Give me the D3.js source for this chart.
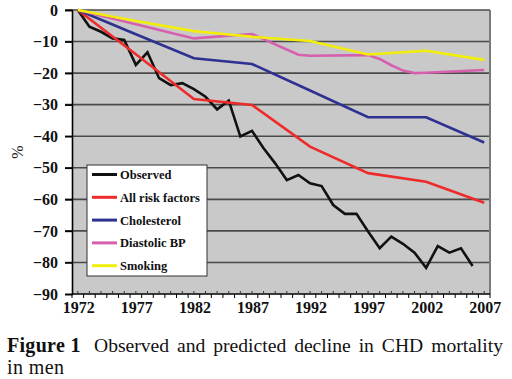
<!DOCTYPE html>
<html>
<head>
<meta charset="utf-8">
<script src="https://cdn.jsdelivr.net/npm/d3@7"></script>
<style>
  html, body { margin: 0; padding: 0; background: #fff; }
  svg { display: block; }
  text { font-family: "Liberation Serif"; }
</style>
</head>
<body>
<svg id="chart" width="512" height="379"></svg>
<script>
// ---------- data ----------
const years = [1972,1973,1974,1975,1976,1977,1978,1979,1980,1981,1982,1983,1984,1985,1986,1987,1988,1989,
               1990,1991,1992,1993,1994,1995,1996,1997,1998,1999,2000,2001,2002,2003,2004,2005,2006,2007];
const tickYears = [1972, 1977, 1982, 1987, 1992, 1997, 2002, 2007];
const yTicks = [0, -10, -20, -30, -40, -50, -60, -70, -80, -90];

const observedYears = [1972,1973,1974,1975,1976,1977,1978,1979,1980,1981,1982,1983,1984,1985,1986,1987,1988,1989,
                       1990,1991,1992,1993,1994,1995,1996,1997,1998,1999,2000,2001,2002,2003,2004,2005,2006];
const observedValues = [0,-5.3,-6.9,-9.0,-9.5,-17.4,-13.4,-21.6,-23.8,-23.2,-25.1,-27.5,-31.5,-28.7,-40.1,-38.3,-43.8,-48.6,
                        -53.9,-52.3,-54.9,-55.8,-61.8,-64.6,-64.6,-70.2,-75.5,-71.8,-74.1,-76.9,-81.7,-74.8,-76.9,-75.5,-81.1];

const riskYears = [1972, 1977, 1982, 1987, 1992, 1997, 2002, 2007];
const riskValues = [0, -14.0, -28.2, -30.1, -43.3, -51.7, -54.4, -61.1];

const cholYears = [1972, 1977, 1982, 1987, 1992, 1997, 2002, 2007];
const cholValues = [0, -7.7, -15.3, -17.1, -25.5, -34.0, -34.0, -42.0];

const bpYears = [1972, 1977, 1982, 1987, 1991, 1992, 1997, 1998, 1999, 2000, 2001, 2002, 2007];
const bpValues = [0, -4.5, -9.0, -7.6, -14.2, -14.5, -14.3, -15.5, -17.5, -19.2, -20.0, -19.9, -19.0];

const smokeYears = [1972, 1977, 1982, 1987, 1992, 1997, 2002, 2007];
const smokeValues = [0, -3.5, -6.7, -8.5, -9.8, -14.1, -12.9, -15.8];

const seriesNames = ["Observed", "All risk factors", "Cholesterol", "Diastolic BP", "Smoking"];
const seriesColors = ["#111111", "#ee2b2b", "#2e3192", "#d65fae", "#f2ee0c"];
const seriesYears = [observedYears, riskYears, cholYears, bpYears, smokeYears];
const seriesValues = [observedValues, riskValues, cholValues, bpValues, smokeValues];

// ---------- layout ----------
const svg = d3.select("#chart");
const L = 72, R = 490, T = 10, B = 294;
const serif = "Liberation Serif";

const x = d3.scalePoint().domain(years).range([L, R]).padding(0.5);
const step = x.step();
const y = d3.scaleLinear().domain([-90, 0]).range([B, T]);

// plot background
svg.append("rect").attr("x", L).attr("y", T).attr("width", R - L).attr("height", B - T)
  .attr("fill", "#c9c9c9");

// gridlines (with outer tick part)
svg.append("g").selectAll("line").data(yTicks.filter(d => d !== -90)).join("line")
  .attr("x1", L - 7).attr("x2", R)
  .attr("y1", d => y(d)).attr("y2", d => y(d))
  .attr("stroke", "#4a4a4a").attr("stroke-width", 1.6);

// right border
svg.append("line").attr("x1", R).attr("x2", R).attr("y1", T).attr("y2", B)
  .attr("stroke", "#7a7a7a").attr("stroke-width", 2);

// y axis
const yAxis = svg.append("g").attr("transform", `translate(${L},0)`)
  .call(d3.axisLeft(y).tickValues(yTicks).tickSize(7).tickPadding(7)
    .tickFormat(d => d === 0 ? "0" : "\u2212" + Math.abs(d)));
yAxis.attr("font-family", null);
yAxis.select(".domain").attr("stroke", "#000").attr("stroke-width", 1.6);
yAxis.selectAll(".tick line").attr("stroke", "#000").attr("stroke-width", 1.6);
yAxis.selectAll("text").style("font-family", serif).style("font-weight", "bold")
  .style("font-size", "16px").attr("fill", "#111");

// x axis
const xAxisG = svg.append("g").attr("transform", `translate(0,${B})`);
xAxisG.append("line").attr("x1", L).attr("x2", R).attr("y1", 0).attr("y2", 0)
  .attr("stroke", "#000").attr("stroke-width", 1.6);
// outer ticks on category boundaries
xAxisG.selectAll("line.outer").data(years.concat(["end"])).join("line").attr("class", "outer")
  .attr("x1", (d, i) => L + i * step).attr("x2", (d, i) => L + i * step)
  .attr("y1", 0).attr("y2", 4).attr("stroke", "#000").attr("stroke-width", 1);
// inner ticks on category centres
xAxisG.selectAll("line.inner").data(years).join("line").attr("class", "inner")
  .attr("x1", d => x(d)).attr("x2", d => x(d))
  .attr("y1", 0).attr("y2", -3).attr("stroke", "#333").attr("stroke-width", 1);
xAxisG.selectAll("text").data(tickYears).join("text")
  .attr("x", d => x(d) + 1).attr("y", 19)
  .attr("text-anchor", "middle").style("font-family", serif).style("font-weight", "bold")
  .style("font-size", "16px").attr("fill", "#111").text(d => d);

// y label
svg.append("text").attr("transform", "translate(23,152) rotate(-90)")
  .attr("text-anchor", "middle").style("font-family", serif).style("font-size", "16px")
  .attr("fill", "#222").text("%");

// lines
const line = d3.line().x(d => x(d[0])).y(d => y(d[1]));
seriesNames.forEach((name, i) => {
  const pts = seriesYears[i].map((yr, j) => [yr, seriesValues[i][j]]);
  svg.append("path").datum(pts).attr("d", line)
    .attr("fill", "none").attr("stroke", seriesColors[i]).attr("stroke-width", 2.6)
    .attr("stroke-linejoin", "miter");
});

// legend
const lg = svg.append("g");
lg.append("rect").attr("x", 87).attr("y", 165).attr("width", 120).attr("height", 111)
  .attr("fill", "#fff").attr("stroke", "#333").attr("stroke-width", 1);
seriesNames.forEach((name, i) => {
  const cy = 174.5 + i * 22.8;
  lg.append("line").attr("x1", 92).attr("x2", 117).attr("y1", cy).attr("y2", cy)
    .attr("stroke", seriesColors[i]).attr("stroke-width", 3);
  lg.append("text").attr("x", 120).attr("y", cy + 4.5)
    .style("font-family", serif).style("font-weight", "bold").style("font-size", "12.5px")
    .attr("fill", "#111").text(name);
});

// caption
svg.append("text").attr("x", 7).attr("y", 351.5)
  .style("font-family", serif).style("font-weight", "bold").style("font-size", "20px")
  .style("letter-spacing", "0.3px").attr("fill", "#111").text("Figure 1");
const capStart = 94, capEnd = 503;
const cap = svg.append("text").attr("x", capStart).attr("y", 351.5)
  .style("font-family", serif).style("font-size", "20px")
  .attr("fill", "#111").text("Observed and predicted decline in CHD mortality");
let natural = cap.node().getComputedTextLength();
const target = (capEnd - capStart) - 6 * 3;   // leave some room for wider word gaps
if (natural > target) {
  const fs = 20 * target / natural;
  cap.style("font-size", fs + "px");
  natural = cap.node().getComputedTextLength();
}
cap.style("word-spacing", Math.max(0, (capEnd - capStart - natural) / 6) + "px");
svg.append("text").attr("x", 7).attr("y", 373.5)
  .style("font-family", serif).style("font-size", "20px").style("letter-spacing", "0.4px")
  .attr("fill", "#111").text("in men");
</script>
</body>
</html>
